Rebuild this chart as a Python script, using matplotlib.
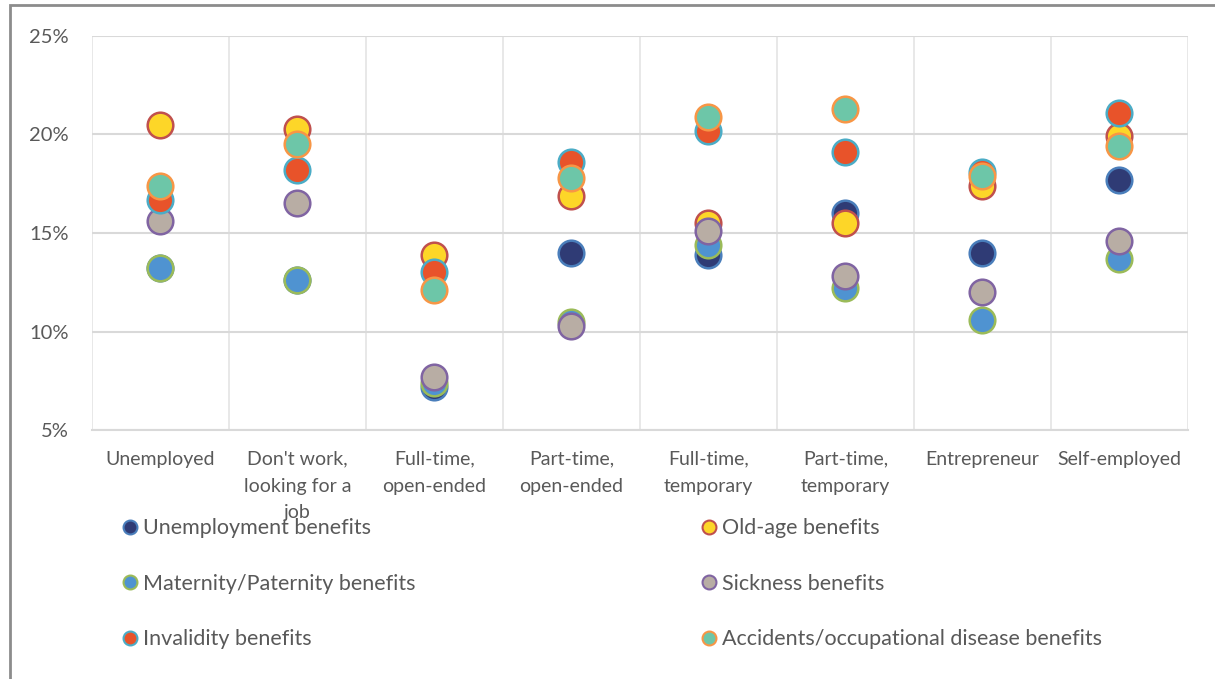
import numpy as np
import matplotlib
matplotlib.use("Agg")
import matplotlib.pyplot as plt
from matplotlib.lines import Line2D
from matplotlib.patches import Rectangle

plt.rcParams['font.family'] = ['Lato', 'DejaVu Sans']

categories = ["Unemployed", "Don't work,\nlooking for a\njob", "Full-time,\nopen-ended",
              "Part-time,\nopen-ended", "Full-time,\ntemporary", "Part-time,\ntemporary",
              "Entrepreneur", "Self-employed"]

# values in percent, one list per benefit type
unemployment = [13.2, 12.6, 7.2, 14.0, 13.9, 16.0, 14.0, 17.7]
old_age = [20.5, 20.3, 13.9, 16.9, 15.5, 15.5, 17.4, 19.9]
maternity = [13.2, 12.6, 7.4, 10.5, 14.4, 12.2, 10.6, 13.7]
sickness = [15.6, 16.5, 7.7, 10.3, 15.1, 12.8, 12.0, 14.6]
invalidity = [16.7, 18.2, 13.0, 18.6, 20.2, 19.1, 18.1, 21.1]
accidents = [17.4, 19.5, 12.1, 17.8, 20.9, 21.3, 17.9, 19.4]

series = [
    ("Unemployment benefits", unemployment, "#2F3B75", "#4A7EBB"),
    ("Old-age benefits", old_age, "#FDD628", "#C0504D"),
    ("Maternity/Paternity benefits", maternity, "#4F93D1", "#9BBB59"),
    ("Sickness benefits", sickness, "#B8ADA4", "#8064A2"),
    ("Invalidity benefits", invalidity, "#E8532A", "#4BACC6"),
    ("Accidents/occupational disease benefits", accidents, "#6DC6A8", "#F79646"),
]

fig = plt.figure(figsize=(12.15, 6.79), dpi=100)
ax = fig.add_axes([0.0757, 0.3667, 0.902, 0.5803])

x = np.arange(len(categories))
handles = []
for name, vals, fill, edge in series:
    ax.scatter(x, vals, s=340, color=fill, edgecolors=edge, linewidths=1.8, zorder=3)
    handles.append(Line2D([], [], linestyle='none', marker='o', markersize=10,
                          markerfacecolor=fill, markeredgecolor=edge,
                          markeredgewidth=1.5, label=name))

ax.set_xlim(-0.5, len(categories) - 0.5)
ax.set_ylim(5, 25)
ax.set_yticks([5, 10, 15, 20, 25])
ax.set_yticklabels([f"{v}%" for v in [5, 10, 15, 20, 25]])
ax.set_xticks(x)
ax.set_xticklabels(categories, linespacing=1.7)
ax.set_xticks(np.arange(-0.5, len(categories), 0.5), minor=True)
ax.grid(True, which='minor', axis='x', color='#E6E6E6', linewidth=1.3, zorder=0)
ax.grid(True, which='major', axis='y', color='#D9D9D9', linewidth=1.5, zorder=0)
ax.tick_params(axis='both', which='both', length=0)
ax.tick_params(axis='y', labelsize=14.5, labelcolor='#595959', pad=17)
ax.tick_params(axis='x', labelsize=14, labelcolor='#595959', pad=15)
for sp in ['top', 'right', 'left']:
    ax.spines[sp].set_visible(False)
ax.spines['bottom'].set_color('#D9D9D9')
ax.spines['bottom'].set_linewidth(1.5)

order = [0, 2, 4, 1, 3, 5]
fig.legend([handles[i] for i in order], [handles[i].get_label() for i in order],
           ncol=2, loc='upper left', bbox_to_anchor=(0.083, 0.265), frameon=False,
           fontsize=15.5, labelcolor='#595959', handletextpad=0.15, handlelength=0.9,
           columnspacing=13.2, labelspacing=1.64)

# outer chart frame
fig.patches.append(Rectangle((0.0085, -0.05), 1.2, 1.043, transform=fig.transFigure,
                             fill=False, edgecolor='#8C8C8C', linewidth=2))

fig.savefig("out.png", dpi=100)
